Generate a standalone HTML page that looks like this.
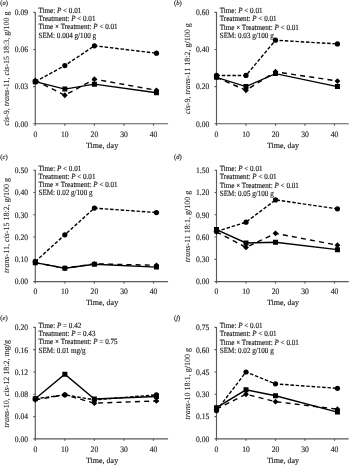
<!DOCTYPE html>
<html><head><meta charset="utf-8"><style>
html,body{margin:0;padding:0;background:#fff;}
svg{display:block;}
text{font-family:"Liberation Serif",serif;text-rendering:geometricPrecision;fill:#1c1c1c;stroke:#1c1c1c;stroke-width:0.15px;stroke-linejoin:round;}
.tk{font-size:7.6px;}
.ti{font-size:8.0px;}
.st{font-size:7.1px;}
.yl{font-size:8.0px;stroke-width:0.08px;}
.lt{font-size:6.6px;}
</style></head><body>
<svg width="350" height="465" viewBox="0 0 350 465">
<defs><filter id="bl" x="0" y="0" width="350" height="465" filterUnits="userSpaceOnUse"><feGaussianBlur stdDeviation="0.4 0.45"/></filter></defs>
<rect width="350" height="465" fill="#fff"/>
<g filter="url(#bl)">
<path d='M35.3 11.9V123.7H168.1' fill='none' stroke='#5a5a5a' stroke-width='1.15'/>
<text transform='translate(28.1 126.55) scale(1 1.1)' text-anchor='end' class='tk'>0.00</text>
<text transform='translate(28.1 89.45) scale(1 1.1)' text-anchor='end' class='tk'>0.03</text>
<text transform='translate(28.1 52.35) scale(1 1.1)' text-anchor='end' class='tk'>0.06</text>
<text transform='translate(28.1 15.25) scale(1 1.1)' text-anchor='end' class='tk'>0.09</text>
<text transform='translate(35.3 136.55) scale(1 1.1)' text-anchor='middle' class='tk'>0</text>
<text transform='translate(64.85 136.55) scale(1 1.1)' text-anchor='middle' class='tk'>10</text>
<text transform='translate(94.4 136.55) scale(1 1.1)' text-anchor='middle' class='tk'>20</text>
<text transform='translate(123.95 136.55) scale(1 1.1)' text-anchor='middle' class='tk'>30</text>
<text transform='translate(153.5 136.55) scale(1 1.1)' text-anchor='middle' class='tk'>40</text>
<path d='M33.3 123.7H35.3M33.3 86.6H35.3M33.3 49.5H35.3M33.3 12.4H35.3M35.3 123.7V125.7M64.85 123.7V125.7M94.4 123.7V125.7M123.95 123.7V125.7M153.5 123.7V125.7' stroke='#5a5a5a' stroke-width='1.15'/>
<text x='102.1' y='147.5' text-anchor='middle' class='ti'>Time, day</text>
<text transform='translate(8.8 68.65) rotate(-90)' text-anchor='middle' class='yl'><tspan font-style='italic'>cis</tspan>-9, <tspan font-style='italic'>trans</tspan>-11, <tspan font-style='italic'>cis</tspan>-15 18:3, g/100 g</text>
<text x='0.3' y='4.9' class='lt'>(<tspan font-style='italic'>a</tspan>)</text>
<text transform='translate(38.5 12.9) scale(1 1.12)' class='st'>Time: <tspan font-style='italic'>P</tspan> &lt; 0.01</text>
<text transform='translate(38.5 21.15) scale(1 1.12)' class='st'>Treatment: <tspan font-style='italic'>P</tspan> &lt; 0.01</text>
<text transform='translate(38.5 29.4) scale(1 1.12)' class='st'>Time × Treatment: <tspan font-style='italic'>P</tspan> &lt; 0.01</text>
<text transform='translate(38.5 37.65) scale(1 1.12)' class='st'>SEM: 0.004 g/100 g</text>
<path d='M35.3 80.42 L64.85 95.26 L94.4 79.18 L156.45 90.31' fill='none' stroke='#000' stroke-width='1.4' stroke-dasharray='5.0 4.2'/>
<path d='M35.3 81.65 L64.85 65.58 L94.4 45.79 L156.45 53.21' fill='none' stroke='#000' stroke-width='1.4' stroke-dasharray='3.5 1.8'/>
<path d='M35.3 81.65 L64.85 89.07 L94.4 84.13 L156.45 92.78' fill='none' stroke='#000' stroke-width='1.4'/>
<circle cx='35.3' cy='81.65' r='2.6' fill='#000'/>
<circle cx='64.85' cy='65.58' r='2.6' fill='#000'/>
<circle cx='94.4' cy='45.79' r='2.6' fill='#000'/>
<circle cx='156.45' cy='53.21' r='2.6' fill='#000'/>
<path d='M32.8 79.15h5v5h-5ZM62.35 86.57h5v5h-5ZM91.9 81.63h5v5h-5ZM153.95 90.28h5v5h-5ZM35.3 77.52L38.2 80.42L35.3 83.32L32.4 80.42ZM64.85 92.36L67.75 95.26L64.85 98.16L61.95 95.26ZM94.4 76.28L97.3 79.18L94.4 82.08L91.5 79.18ZM156.45 87.41L159.35 90.31L156.45 93.21L153.55 90.31Z' fill='#000'/>
<path d='M216.5 11.9V123.7H348.7' fill='none' stroke='#5a5a5a' stroke-width='1.15'/>
<text transform='translate(209.3 126.55) scale(1 1.1)' text-anchor='end' class='tk'>0.00</text>
<text transform='translate(209.3 89.45) scale(1 1.1)' text-anchor='end' class='tk'>0.20</text>
<text transform='translate(209.3 52.35) scale(1 1.1)' text-anchor='end' class='tk'>0.40</text>
<text transform='translate(209.3 15.25) scale(1 1.1)' text-anchor='end' class='tk'>0.60</text>
<text transform='translate(216.5 136.55) scale(1 1.1)' text-anchor='middle' class='tk'>0</text>
<text transform='translate(246 136.55) scale(1 1.1)' text-anchor='middle' class='tk'>10</text>
<text transform='translate(275.5 136.55) scale(1 1.1)' text-anchor='middle' class='tk'>20</text>
<text transform='translate(305 136.55) scale(1 1.1)' text-anchor='middle' class='tk'>30</text>
<text transform='translate(334.5 136.55) scale(1 1.1)' text-anchor='middle' class='tk'>40</text>
<path d='M214.5 123.7H216.5M214.5 86.6H216.5M214.5 49.5H216.5M214.5 12.4H216.5M216.5 123.7V125.7M246 123.7V125.7M275.5 123.7V125.7M305 123.7V125.7M334.5 123.7V125.7' stroke='#5a5a5a' stroke-width='1.15'/>
<text x='283' y='147.5' text-anchor='middle' class='ti'>Time, day</text>
<text transform='translate(190 68.65) rotate(-90)' text-anchor='middle' class='yl'><tspan font-style='italic'>cis</tspan>-9, <tspan font-style='italic'>trans</tspan>-11 18:2, g/100 g</text>
<text x='174' y='4.9' class='lt'>(<tspan font-style='italic'>b</tspan>)</text>
<text transform='translate(219.7 13.2) scale(1 1.12)' class='st'>Time: <tspan font-style='italic'>P</tspan> &lt; 0.01</text>
<text transform='translate(219.7 21.45) scale(1 1.12)' class='st'>Treatment: <tspan font-style='italic'>P</tspan> &lt; 0.01</text>
<text transform='translate(219.7 29.7) scale(1 1.12)' class='st'>Time × Treatment: <tspan font-style='italic'>P</tspan> &lt; 0.01</text>
<text transform='translate(219.7 37.95) scale(1 1.12)' class='st'>SEM: 0.03 g/100 g</text>
<path d='M216.5 77.33 L246 90.31 L275.5 71.76 L337.45 81.03' fill='none' stroke='#000' stroke-width='1.4' stroke-dasharray='5.0 4.2'/>
<path d='M216.5 75.47 L246 75.47 L275.5 40.22 L337.45 43.94' fill='none' stroke='#000' stroke-width='1.4' stroke-dasharray='3.5 1.8'/>
<path d='M216.5 77.33 L246 86.6 L275.5 73.61 L337.45 86.6' fill='none' stroke='#000' stroke-width='1.4'/>
<circle cx='216.5' cy='75.47' r='2.6' fill='#000'/>
<circle cx='246' cy='75.47' r='2.6' fill='#000'/>
<circle cx='275.5' cy='40.22' r='2.6' fill='#000'/>
<circle cx='337.45' cy='43.94' r='2.6' fill='#000'/>
<path d='M214 74.83h5v5h-5ZM243.5 84.1h5v5h-5ZM273 71.11h5v5h-5ZM334.95 84.1h5v5h-5ZM216.5 74.42L219.4 77.33L216.5 80.23L213.6 77.33ZM246 87.41L248.9 90.31L246 93.21L243.1 90.31ZM275.5 68.86L278.4 71.76L275.5 74.66L272.6 71.76ZM337.45 78.13L340.35 81.03L337.45 83.94L334.55 81.03Z' fill='#000'/>
<path d='M35.3 169.7V281.6H168.1' fill='none' stroke='#5a5a5a' stroke-width='1.15'/>
<text transform='translate(28.1 284.45) scale(1 1.1)' text-anchor='end' class='tk'>0.00</text>
<text transform='translate(28.1 262.17) scale(1 1.1)' text-anchor='end' class='tk'>0.10</text>
<text transform='translate(28.1 239.89) scale(1 1.1)' text-anchor='end' class='tk'>0.20</text>
<text transform='translate(28.1 217.61) scale(1 1.1)' text-anchor='end' class='tk'>0.30</text>
<text transform='translate(28.1 195.33) scale(1 1.1)' text-anchor='end' class='tk'>0.40</text>
<text transform='translate(28.1 173.05) scale(1 1.1)' text-anchor='end' class='tk'>0.50</text>
<text transform='translate(35.3 294.45) scale(1 1.1)' text-anchor='middle' class='tk'>0</text>
<text transform='translate(64.85 294.45) scale(1 1.1)' text-anchor='middle' class='tk'>10</text>
<text transform='translate(94.4 294.45) scale(1 1.1)' text-anchor='middle' class='tk'>20</text>
<text transform='translate(123.95 294.45) scale(1 1.1)' text-anchor='middle' class='tk'>30</text>
<text transform='translate(153.5 294.45) scale(1 1.1)' text-anchor='middle' class='tk'>40</text>
<path d='M33.3 281.6H35.3M33.3 259.32H35.3M33.3 237.04H35.3M33.3 214.76H35.3M33.3 192.48H35.3M33.3 170.2H35.3M35.3 281.6V283.6M64.85 281.6V283.6M94.4 281.6V283.6M123.95 281.6V283.6M153.5 281.6V283.6' stroke='#5a5a5a' stroke-width='1.15'/>
<text x='102.1' y='305.4' text-anchor='middle' class='ti'>Time, day</text>
<text transform='translate(8.8 225.5) rotate(-90)' text-anchor='middle' class='yl'><tspan font-style='italic'>trans</tspan>-11, <tspan font-style='italic'>cis</tspan>-15 18:2, g/100 g</text>
<text x='0.3' y='159.3' class='lt'>(<tspan font-style='italic'>c</tspan>)</text>
<text transform='translate(38.5 170.7) scale(1 1.12)' class='st'>Time: <tspan font-style='italic'>P</tspan> &lt; 0.01</text>
<text transform='translate(38.5 178.95) scale(1 1.12)' class='st'>Treatment: <tspan font-style='italic'>P</tspan> &lt; 0.01</text>
<text transform='translate(38.5 187.2) scale(1 1.12)' class='st'>Time × Treatment: <tspan font-style='italic'>P</tspan> &lt; 0.01</text>
<text transform='translate(38.5 195.45) scale(1 1.12)' class='st'>SEM: 0.02 g/100 g</text>
<path d='M35.3 262.66 L64.85 268.23 L94.4 263.78 L156.45 265.34' fill='none' stroke='#000' stroke-width='1.4' stroke-dasharray='5.0 4.2'/>
<path d='M35.3 261.55 L64.85 234.81 L94.4 208.08 L156.45 212.53' fill='none' stroke='#000' stroke-width='1.4' stroke-dasharray='3.5 1.8'/>
<path d='M35.3 262.66 L64.85 268.23 L94.4 264.22 L156.45 267.12' fill='none' stroke='#000' stroke-width='1.4'/>
<circle cx='35.3' cy='261.55' r='2.6' fill='#000'/>
<circle cx='64.85' cy='234.81' r='2.6' fill='#000'/>
<circle cx='94.4' cy='208.08' r='2.6' fill='#000'/>
<circle cx='156.45' cy='212.53' r='2.6' fill='#000'/>
<path d='M32.8 260.16h5v5h-5ZM62.35 265.73h5v5h-5ZM91.9 261.72h5v5h-5ZM153.95 264.62h5v5h-5ZM35.3 259.76L38.2 262.66L35.3 265.56L32.4 262.66ZM64.85 265.33L67.75 268.23L64.85 271.13L61.95 268.23ZM94.4 260.88L97.3 263.78L94.4 266.68L91.5 263.78ZM156.45 262.44L159.35 265.34L156.45 268.24L153.55 265.34Z' fill='#000'/>
<path d='M216.5 169.7V281.6H348.7' fill='none' stroke='#5a5a5a' stroke-width='1.15'/>
<text transform='translate(209.3 284.45) scale(1 1.1)' text-anchor='end' class='tk'>0.00</text>
<text transform='translate(209.3 262.17) scale(1 1.1)' text-anchor='end' class='tk'>0.30</text>
<text transform='translate(209.3 239.89) scale(1 1.1)' text-anchor='end' class='tk'>0.60</text>
<text transform='translate(209.3 217.61) scale(1 1.1)' text-anchor='end' class='tk'>0.90</text>
<text transform='translate(209.3 195.33) scale(1 1.1)' text-anchor='end' class='tk'>1.20</text>
<text transform='translate(209.3 173.05) scale(1 1.1)' text-anchor='end' class='tk'>1.50</text>
<text transform='translate(216.5 294.45) scale(1 1.1)' text-anchor='middle' class='tk'>0</text>
<text transform='translate(246 294.45) scale(1 1.1)' text-anchor='middle' class='tk'>10</text>
<text transform='translate(275.5 294.45) scale(1 1.1)' text-anchor='middle' class='tk'>20</text>
<text transform='translate(305 294.45) scale(1 1.1)' text-anchor='middle' class='tk'>30</text>
<text transform='translate(334.5 294.45) scale(1 1.1)' text-anchor='middle' class='tk'>40</text>
<path d='M214.5 281.6H216.5M214.5 259.32H216.5M214.5 237.04H216.5M214.5 214.76H216.5M214.5 192.48H216.5M214.5 170.2H216.5M216.5 281.6V283.6M246 281.6V283.6M275.5 281.6V283.6M305 281.6V283.6M334.5 281.6V283.6' stroke='#5a5a5a' stroke-width='1.15'/>
<text x='283' y='305.4' text-anchor='middle' class='ti'>Time, day</text>
<text transform='translate(190 226.5) rotate(-90)' text-anchor='middle' class='yl'><tspan font-style='italic'>trans</tspan>-11 18:1, g/100 g</text>
<text x='174' y='159.3' class='lt'>(<tspan font-style='italic'>d</tspan>)</text>
<text transform='translate(219.7 171) scale(1 1.12)' class='st'>Time: <tspan font-style='italic'>P</tspan> &lt; 0.01</text>
<text transform='translate(219.7 179.25) scale(1 1.12)' class='st'>Treatment: <tspan font-style='italic'>P</tspan> &lt; 0.01</text>
<text transform='translate(219.7 187.5) scale(1 1.12)' class='st'>Time × Treatment: <tspan font-style='italic'>P</tspan> &lt; 0.01</text>
<text transform='translate(219.7 195.75) scale(1 1.12)' class='st'>SEM: 0.05 g/100 g</text>
<path d='M216.5 231.84 L246 247.44 L275.5 233.33 L337.45 245.21' fill='none' stroke='#000' stroke-width='1.4' stroke-dasharray='5.0 4.2'/>
<path d='M216.5 231.47 L246 222.19 L275.5 199.91 L337.45 208.82' fill='none' stroke='#000' stroke-width='1.4' stroke-dasharray='3.5 1.8'/>
<path d='M216.5 229.61 L246 242.98 L275.5 242.24 L337.45 249.67' fill='none' stroke='#000' stroke-width='1.4'/>
<circle cx='216.5' cy='231.47' r='2.6' fill='#000'/>
<circle cx='246' cy='222.19' r='2.6' fill='#000'/>
<circle cx='275.5' cy='199.91' r='2.6' fill='#000'/>
<circle cx='337.45' cy='208.82' r='2.6' fill='#000'/>
<path d='M214 227.11h5v5h-5ZM243.5 240.48h5v5h-5ZM273 239.74h5v5h-5ZM334.95 247.17h5v5h-5ZM216.5 228.94L219.4 231.84L216.5 234.74L213.6 231.84ZM246 244.54L248.9 247.44L246 250.34L243.1 247.44ZM275.5 230.43L278.4 233.33L275.5 236.23L272.6 233.33ZM337.45 242.31L340.35 245.21L337.45 248.11L334.55 245.21Z' fill='#000'/>
<path d='M35.3 326.9V438.85H168.1' fill='none' stroke='#5a5a5a' stroke-width='1.15'/>
<text transform='translate(28.1 441.7) scale(1 1.1)' text-anchor='end' class='tk'>0.00</text>
<text transform='translate(28.1 419.41) scale(1 1.1)' text-anchor='end' class='tk'>0.04</text>
<text transform='translate(28.1 397.12) scale(1 1.1)' text-anchor='end' class='tk'>0.08</text>
<text transform='translate(28.1 374.83) scale(1 1.1)' text-anchor='end' class='tk'>0.12</text>
<text transform='translate(28.1 352.54) scale(1 1.1)' text-anchor='end' class='tk'>0.16</text>
<text transform='translate(28.1 330.25) scale(1 1.1)' text-anchor='end' class='tk'>0.20</text>
<text transform='translate(35.3 451.7) scale(1 1.1)' text-anchor='middle' class='tk'>0</text>
<text transform='translate(64.85 451.7) scale(1 1.1)' text-anchor='middle' class='tk'>10</text>
<text transform='translate(94.4 451.7) scale(1 1.1)' text-anchor='middle' class='tk'>20</text>
<text transform='translate(123.95 451.7) scale(1 1.1)' text-anchor='middle' class='tk'>30</text>
<text transform='translate(153.5 451.7) scale(1 1.1)' text-anchor='middle' class='tk'>40</text>
<path d='M33.3 438.85H35.3M33.3 416.56H35.3M33.3 394.27H35.3M33.3 371.98H35.3M33.3 349.69H35.3M33.3 327.4H35.3M35.3 438.85V440.85M64.85 438.85V440.85M94.4 438.85V440.85M123.95 438.85V440.85M153.5 438.85V440.85' stroke='#5a5a5a' stroke-width='1.15'/>
<text x='102.1' y='462.65' text-anchor='middle' class='ti'>Time, day</text>
<text transform='translate(8.8 383.73) rotate(-90)' text-anchor='middle' class='yl'><tspan font-style='italic'>trans</tspan>-10, <tspan font-style='italic'>cis</tspan>-12 18:2, mg/g</text>
<text x='0.3' y='320.1' class='lt'>(<tspan font-style='italic'>e</tspan>)</text>
<text transform='translate(38.5 327.9) scale(1 1.12)' class='st'>Time: <tspan font-style='italic'>P</tspan> = 0.42</text>
<text transform='translate(38.5 336.15) scale(1 1.12)' class='st'>Treatment: <tspan font-style='italic'>P</tspan> = 0.43</text>
<text transform='translate(38.5 344.4) scale(1 1.12)' class='st'>Time × Treatment: <tspan font-style='italic'>P</tspan> = 0.75</text>
<text transform='translate(38.5 352.65) scale(1 1.12)' class='st'>SEM: 0.01 mg/g</text>
<path d='M35.3 399.84 L64.85 394.83 L94.4 403.19 L156.45 400.96' fill='none' stroke='#000' stroke-width='1.4' stroke-dasharray='5.0 4.2'/>
<path d='M35.3 398.73 L64.85 394.83 L94.4 399.84 L156.45 394.83' fill='none' stroke='#000' stroke-width='1.4' stroke-dasharray='3.5 1.8'/>
<path d='M35.3 398.73 L64.85 374.21 L94.4 399.01 L156.45 396.5' fill='none' stroke='#000' stroke-width='1.4'/>
<circle cx='35.3' cy='398.73' r='2.6' fill='#000'/>
<circle cx='64.85' cy='394.83' r='2.6' fill='#000'/>
<circle cx='94.4' cy='399.84' r='2.6' fill='#000'/>
<circle cx='156.45' cy='394.83' r='2.6' fill='#000'/>
<path d='M32.8 396.23h5v5h-5ZM62.35 371.71h5v5h-5ZM91.9 396.51h5v5h-5ZM153.95 394h5v5h-5ZM35.3 396.94L38.2 399.84L35.3 402.74L32.4 399.84ZM64.85 391.93L67.75 394.83L64.85 397.73L61.95 394.83ZM94.4 400.29L97.3 403.19L94.4 406.09L91.5 403.19ZM156.45 398.06L159.35 400.96L156.45 403.86L153.55 400.96Z' fill='#000'/>
<path d='M216.5 326.9V438.85H348.7' fill='none' stroke='#5a5a5a' stroke-width='1.15'/>
<text transform='translate(209.3 441.7) scale(1 1.1)' text-anchor='end' class='tk'>0.00</text>
<text transform='translate(209.3 419.41) scale(1 1.1)' text-anchor='end' class='tk'>0.15</text>
<text transform='translate(209.3 397.12) scale(1 1.1)' text-anchor='end' class='tk'>0.30</text>
<text transform='translate(209.3 374.83) scale(1 1.1)' text-anchor='end' class='tk'>0.45</text>
<text transform='translate(209.3 352.54) scale(1 1.1)' text-anchor='end' class='tk'>0.60</text>
<text transform='translate(209.3 330.25) scale(1 1.1)' text-anchor='end' class='tk'>0.75</text>
<text transform='translate(216.5 451.7) scale(1 1.1)' text-anchor='middle' class='tk'>0</text>
<text transform='translate(246 451.7) scale(1 1.1)' text-anchor='middle' class='tk'>10</text>
<text transform='translate(275.5 451.7) scale(1 1.1)' text-anchor='middle' class='tk'>20</text>
<text transform='translate(305 451.7) scale(1 1.1)' text-anchor='middle' class='tk'>30</text>
<text transform='translate(334.5 451.7) scale(1 1.1)' text-anchor='middle' class='tk'>40</text>
<path d='M214.5 438.85H216.5M214.5 416.56H216.5M214.5 394.27H216.5M214.5 371.98H216.5M214.5 349.69H216.5M214.5 327.4H216.5M216.5 438.85V440.85M246 438.85V440.85M275.5 438.85V440.85M305 438.85V440.85M334.5 438.85V440.85' stroke='#5a5a5a' stroke-width='1.15'/>
<text x='283' y='462.65' text-anchor='middle' class='ti'>Time, day</text>
<text transform='translate(190 383.73) rotate(-90)' text-anchor='middle' class='yl'><tspan font-style='italic'>trans</tspan>-10 18:1, g/100 g</text>
<text x='174' y='320.1' class='lt'>(<tspan font-style='italic'>f</tspan>)</text>
<text transform='translate(219.7 328.2) scale(1 1.12)' class='st'>Time: <tspan font-style='italic'>P</tspan> &lt; 0.01</text>
<text transform='translate(219.7 336.45) scale(1 1.12)' class='st'>Treatment: <tspan font-style='italic'>P</tspan> &lt; 0.01</text>
<text transform='translate(219.7 344.7) scale(1 1.12)' class='st'>Time × Treatment: <tspan font-style='italic'>P</tspan> &lt; 0.01</text>
<text transform='translate(219.7 352.95) scale(1 1.12)' class='st'>SEM: 0.02 g/100 g</text>
<path d='M216.5 409.13 L246 394.27 L275.5 401.7 L337.45 409.13' fill='none' stroke='#000' stroke-width='1.4' stroke-dasharray='5.0 4.2'/>
<path d='M216.5 410.62 L246 371.98 L275.5 383.87 L337.45 388.33' fill='none' stroke='#000' stroke-width='1.4' stroke-dasharray='3.5 1.8'/>
<path d='M216.5 407.64 L246 389.81 L275.5 395.76 L337.45 412.1' fill='none' stroke='#000' stroke-width='1.4'/>
<circle cx='216.5' cy='410.62' r='2.6' fill='#000'/>
<circle cx='246' cy='371.98' r='2.6' fill='#000'/>
<circle cx='275.5' cy='383.87' r='2.6' fill='#000'/>
<circle cx='337.45' cy='388.33' r='2.6' fill='#000'/>
<path d='M214 405.14h5v5h-5ZM243.5 387.31h5v5h-5ZM273 393.26h5v5h-5ZM334.95 409.6h5v5h-5ZM216.5 406.23L219.4 409.13L216.5 412.03L213.6 409.13ZM246 391.37L248.9 394.27L246 397.17L243.1 394.27ZM275.5 398.8L278.4 401.7L275.5 404.6L272.6 401.7ZM337.45 406.23L340.35 409.13L337.45 412.03L334.55 409.13Z' fill='#000'/>
</g>
</svg>
</body></html>
